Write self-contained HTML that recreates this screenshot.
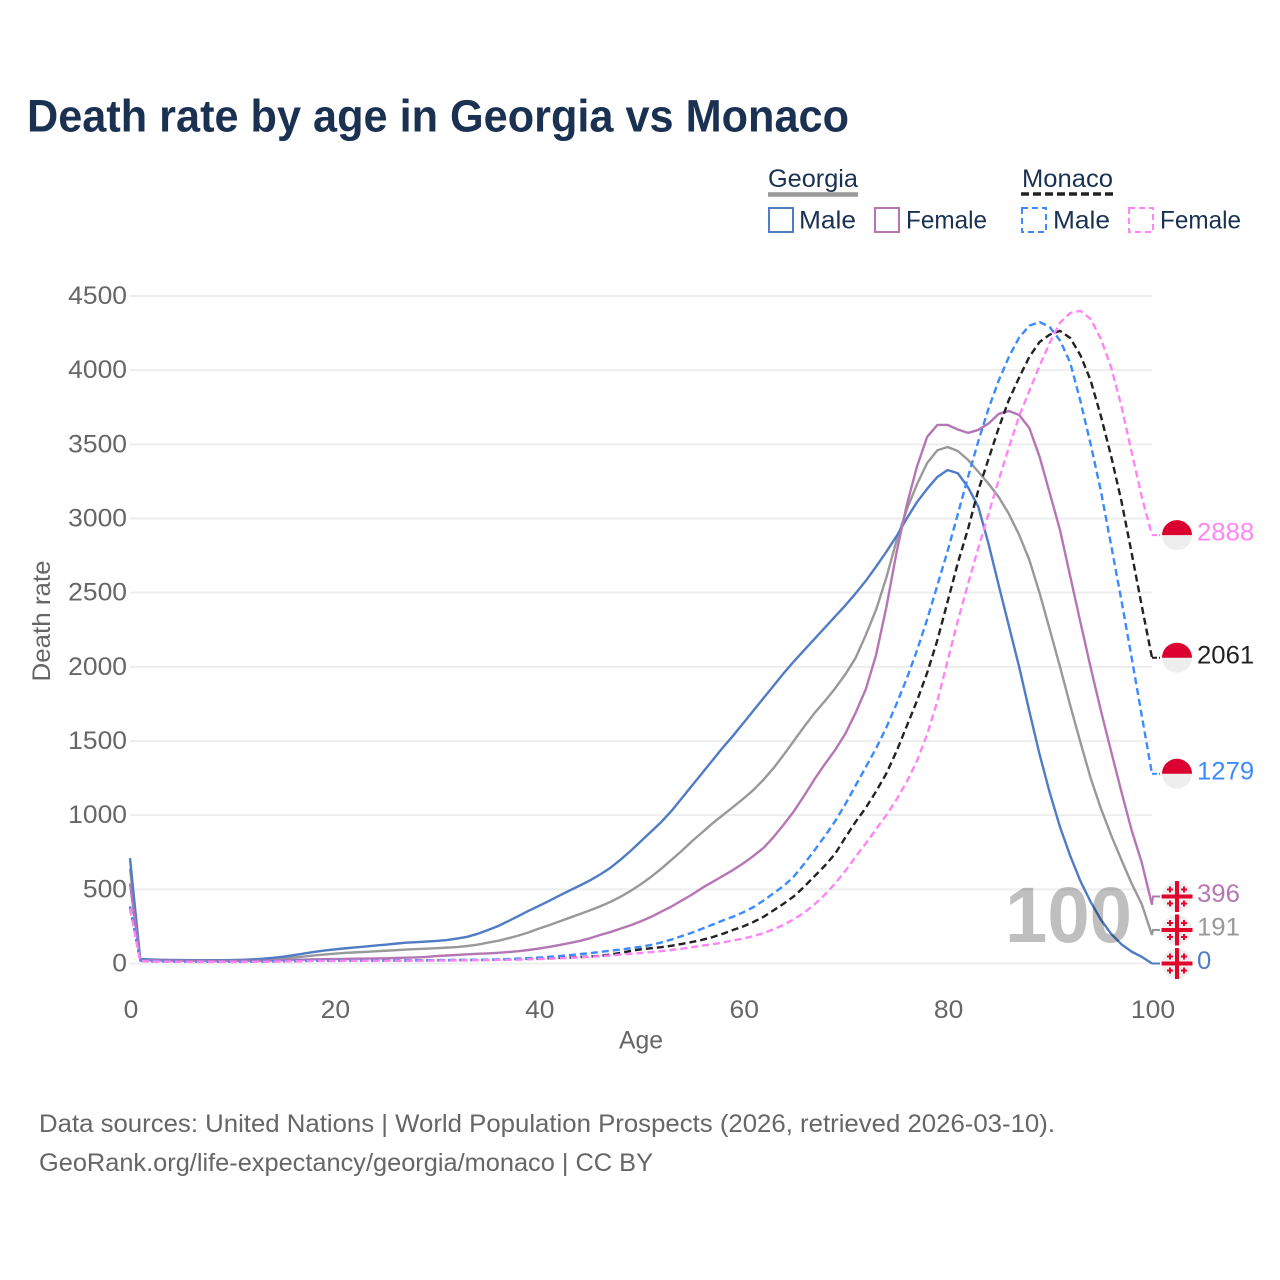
<!DOCTYPE html>
<html lang="en">
<head>
<meta charset="utf-8">
<title>Death rate by age in Georgia vs Monaco</title>
<style>
html,body{margin:0;padding:0;background:#fff;}
svg{display:block;font-family:"Liberation Sans",sans-serif;}
</style>
</head>
<body>
<svg id="chart" xmlns="http://www.w3.org/2000/svg" width="1280" height="1280" viewBox="0 0 1280 1280">
<rect x="0" y="0" width="1280" height="1280" fill="#fff"/>
<text x="27" y="131.500" font-size="45" font-weight="700" fill="#1a3152" textLength="822" lengthAdjust="spacingAndGlyphs">Death rate by age in Georgia vs Monaco</text>

<g font-size="25" fill="#1a3152">
  <text x="768" y="187" textLength="90" lengthAdjust="spacingAndGlyphs">Georgia</text>
  <line x1="768" x2="858" y1="194.500" y2="194.500" stroke="#999" stroke-width="4.500"/>
  <rect x="769" y="208" width="24" height="24" fill="none" stroke="#4f7cc4" stroke-width="2"/>
  <text x="799" y="228.500" textLength="57" lengthAdjust="spacingAndGlyphs">Male</text>
  <rect x="875" y="208" width="24" height="24" fill="none" stroke="#b576b5" stroke-width="2"/>
  <text x="906" y="228.500" textLength="81" lengthAdjust="spacingAndGlyphs">Female</text>
  <text x="1022" y="187" textLength="91" lengthAdjust="spacingAndGlyphs">Monaco</text>
  <line x1="1021" x2="1113" y1="194" y2="194" stroke="#222" stroke-width="3.500" stroke-dasharray="8,4"/>
  <rect x="1022" y="208" width="24" height="24" fill="none" stroke="#3b8bff" stroke-width="2" stroke-dasharray="6,4"/>
  <text x="1053" y="228.500" textLength="57" lengthAdjust="spacingAndGlyphs">Male</text>
  <rect x="1129" y="208" width="24" height="24" fill="none" stroke="#ff85f5" stroke-width="2" stroke-dasharray="6,4"/>
  <text x="1160" y="228.500" textLength="81" lengthAdjust="spacingAndGlyphs">Female</text>
</g>

<g id="grid"></g>
<g id="yticks" font-size="25" fill="#666" text-anchor="end"></g>
<g id="xticks" font-size="25" fill="#666" text-anchor="middle"></g>
<text transform="translate(50,621) rotate(-90)" font-size="25" fill="#666" text-anchor="middle" textLength="121" lengthAdjust="spacingAndGlyphs">Death rate</text>
<text x="641" y="1048.500" font-size="25" fill="#666" text-anchor="middle" textLength="44" lengthAdjust="spacingAndGlyphs">Age</text>

<g id="series"></g>
<text x="1005" y="942" font-size="79" font-weight="700" fill="#000" fill-opacity="0.25" textLength="127" lengthAdjust="spacingAndGlyphs">100</text>
<g id="endmarks"></g>

<g font-size="25" fill="#666">
  <text x="39" y="1132" textLength="1016" lengthAdjust="spacingAndGlyphs">Data sources: United Nations | World Population Prospects (2026, retrieved 2026-03-10).</text>
  <text x="39" y="1171" textLength="614" lengthAdjust="spacingAndGlyphs">GeoRank.org/life-expectancy/georgia/monaco | CC BY</text>
</g>
</svg>

<script>
var yTickValues = [0, 500, 1000, 1500, 2000, 2500, 3000, 3500, 4000, 4500];
var xTickValues = [0, 20, 40, 60, 80, 100];

var georgiaMale = [710,30,27,25,24,23,22,22,22,22,
23,25,28,32,38,46,56,67,78,87,
95,102,108,114,121,127,134,140,144,148,
152,158,168,180,200,225,252,285,320,355,
388,422,457,492,525,560,600,645,700,760,
825,890,955,1030,1115,1200,1285,1370,1455,1535,
1620,1705,1790,1875,1960,2040,2115,2190,2265,2340,
2415,2495,2580,2675,2775,2880,3000,3110,3200,3280,
3327,3305,3210,3080,2830,2550,2275,2000,1700,1410,
1150,920,725,555,415,295,200,130,80,45,0];

var georgiaBoth = [640,26,24,22,21,20,20,20,20,20,
20,21,23,25,29,34,40,47,54,60,
66,71,75,78,82,86,90,94,97,100,
103,107,111,118,127,140,153,170,188,210,
235,258,283,308,333,358,385,415,450,490,
535,585,640,700,760,825,885,945,1000,1055,
1110,1170,1240,1320,1410,1505,1600,1690,1770,1855,
1950,2060,2215,2385,2600,2850,3060,3230,3374,3460,
3482,3455,3395,3315,3235,3145,3030,2890,2720,2497,
2250,2000,1740,1490,1250,1045,865,700,540,400,191];

var georgiaFemale = [540,24,22,20,19,18,18,18,17,17,
17,18,18,19,20,22,24,26,28,29,
30,31,32,33,34,35,37,39,41,44,
50,54,58,62,65,68,72,77,83,91,
101,112,124,138,152,170,192,212,235,258,
285,315,350,385,425,465,510,550,590,630,
675,725,780,855,940,1030,1135,1245,1345,1440,
1550,1690,1850,2080,2400,2770,3090,3350,3550,3631,
3631,3600,3577,3597,3640,3705,3725,3698,3610,3416,
3170,2922,2610,2300,1995,1705,1430,1160,900,680,396];

var monacoBoth = [380,18,15,14,13,13,12,12,12,12,
12,12,13,13,14,15,16,17,18,19,
19,19,19,19,19,20,20,20,21,21,
22,22,23,23,24,25,26,28,30,32,
34,36,38,40,43,47,52,60,72,85,
96,103,110,120,132,145,160,178,200,226,
250,280,315,360,405,455,520,590,660,740,
850,955,1050,1160,1280,1430,1600,1770,1960,2180,
2440,2700,2930,3190,3400,3610,3800,3950,4090,4190,
4240,4265,4217,4100,3930,3690,3420,3120,2770,2410,2061];

var monacoMale = [385,20,17,15,14,13,13,12,12,12,
12,13,13,14,15,16,17,18,19,20,
20,20,20,20,20,20,21,21,22,22,
23,23,24,24,25,26,28,30,33,36,
40,45,50,56,63,70,78,86,94,103,
113,125,142,162,185,208,235,262,290,315,
345,380,425,475,525,590,675,765,860,960,
1075,1200,1325,1450,1590,1750,1920,2110,2320,2550,
2780,3030,3280,3520,3740,3930,4090,4220,4300,4325,
4290,4200,4050,3790,3500,3185,2820,2451,2065,1670,1279];

var monacoFemale = [370,16,14,13,12,12,11,11,11,11,
11,11,12,12,13,14,15,16,17,17,
17,18,18,18,18,18,19,19,19,20,
20,20,21,21,22,23,24,25,26,28,
30,32,35,38,41,45,49,54,60,65,
71,77,84,91,100,110,120,130,142,155,
168,185,205,232,262,300,345,400,465,540,
625,720,810,905,1000,1105,1225,1365,1545,1770,
2040,2310,2560,2800,3030,3260,3480,3690,3860,4030,
4185,4320,4385,4400,4345,4210,4020,3760,3450,3145,2888];

var NS = 'http://www.w3.org/2000/svg';
var X0 = 130, X1 = 1152, Y0 = 963.5, YTOP = 296, YMAX = 4500, AGEMAX = 100;
var DASH = '7,4';
function xScale(a) { return X0 + (X1 - X0) * a / AGEMAX; }
function yScale(v) { return Y0 - (Y0 - YTOP) * v / YMAX; }
function mk(tag, parent) { var e = document.createElementNS(NS, tag); parent.appendChild(e); return e; }
function fit(el, s, perDigit) {
  el.setAttribute('textLength', String(s).length * perDigit);
  el.setAttribute('lengthAdjust', 'spacingAndGlyphs');
}

var gridG = document.getElementById('grid');
var yG = document.getElementById('yticks');
var xG = document.getElementById('xticks');
yTickValues.forEach(function (v) {
  var l = mk('line', gridG);
  
  
  l.setAttribute('x1', X0); l.setAttribute('x2', X1);
  l.setAttribute('y1', yScale(v)); l.setAttribute('y2', yScale(v));
  l.setAttribute('stroke', '#eee'); l.setAttribute('stroke-width', '2');
  var t = mk('text', yG);
  
  
  t.setAttribute('x', 127); t.setAttribute('y', yScale(v) + 8);
  t.textContent = v; fit(t, v, 14.7);
});
xTickValues.forEach(function (a) {
  var t = mk('text', xG);
  
  
  t.setAttribute('x', xScale(a) + 1); t.setAttribute('y', 1018);
  t.textContent = a; fit(t, a, 14.7);
});

var seriesG = document.getElementById('series');
function drawLine(values, color, dash, name) {
  var p = mk('polyline', seriesG);
  
  
  p.setAttribute('points', values.map(function (v, i) { return xScale(i).toFixed(2) + ',' + yScale(v).toFixed(2); }).join(' '));
  p.setAttribute('fill', 'none');
  p.setAttribute('stroke', color);
  p.setAttribute('stroke-width', '2.4');
  p.setAttribute('stroke-linejoin', 'round');
  if (dash) p.setAttribute('stroke-dasharray', dash);
}
drawLine(georgiaBoth, '#999999', null, 'line-georgia-both');
drawLine(georgiaMale, '#4f7cc4', null, 'line-georgia-male');
drawLine(georgiaFemale, '#b576b5', null, 'line-georgia-female');
drawLine(monacoBoth, '#222222', DASH, 'line-monaco-both');
drawLine(monacoMale, '#3b8bff', DASH, 'line-monaco-male');
drawLine(monacoFemale, '#ff85f5', DASH, 'line-monaco-female');

var endG = document.getElementById('endmarks');
var FX = 1177, FR = 15, MINGAP = 33.5;
function last(a) { return a[a.length - 1]; }

function drawEnd(values, color, dash, yPos, country, name) {
  var v = last(values);
  var g = mk('g', endG);
  
  

  var s = mk('polyline', g);
  
  
  s.setAttribute('points', X1 + ',' + yScale(v).toFixed(2) + ' ' + (X1 + 1) + ',' + yPos.toFixed(2) + ' ' + (FX - FR - 2) + ',' + yPos.toFixed(2));
  s.setAttribute('fill', 'none');
  s.setAttribute('stroke', color);
  s.setAttribute('stroke-width', '2');
  if (dash) s.setAttribute('stroke-dasharray', '5,2');

  var c = mk('circle', g);
  
  
  c.setAttribute('cx', FX); c.setAttribute('cy', yPos); c.setAttribute('r', FR);
  c.setAttribute('fill', '#eeeeee');

  if (country === 'monaco') {
    var h = mk('path', g);
    
    
    h.setAttribute('d', 'M' + (FX - FR) + ' ' + yPos + 'A' + FR + ' ' + FR + ' 0 0 1 ' + (FX + FR) + ' ' + yPos + 'Z');
    h.setAttribute('fill', '#dc0030');
  } else {
    var cr = mk('path', g);
    
    
    var d = 'M' + (FX - 2) + ' ' + (yPos - 15.5) + 'h4v13.5h13.500v4h-13.500v13.500h-4v-13.500h-13.500v-4h13.500z';
    [[-7, -7], [7, -7], [-7, 7], [7, 7]].forEach(function (o) {
      var cx = FX + o[0], cy = yPos + o[1];
      d += 'M' + (cx - 1) + ' ' + (cy - 3) + 'h2v2h2v2h-2v2h-2v-2h-2v-2h2z';
    });
    cr.setAttribute('d', d);
    cr.setAttribute('fill', '#e2062c');
  }

  var t = mk('text', g);
  
  
  t.setAttribute('x', 1197); t.setAttribute('y', yPos + 5.5);
  t.setAttribute('font-size', '25'); t.setAttribute('fill', color);
  t.textContent = v; fit(t, v, 14.3);
}

var yMale = yScale(last(georgiaMale));
var yBoth = Math.min(yScale(last(georgiaBoth)), yMale - MINGAP);
var yFemale = Math.min(yScale(last(georgiaFemale)), yBoth - MINGAP);
drawEnd(georgiaMale, '#4f7cc4', null, yMale, 'georgia', 'end-georgia-male');
drawEnd(georgiaBoth, '#999999', null, yBoth, 'georgia', 'end-georgia-both');
drawEnd(georgiaFemale, '#b576b5', null, yFemale, 'georgia', 'end-georgia-female');
drawEnd(monacoMale, '#3b8bff', DASH, yScale(last(monacoMale)), 'monaco', 'end-monaco-male');
drawEnd(monacoBoth, '#222222', DASH, yScale(last(monacoBoth)), 'monaco', 'end-monaco-both');
drawEnd(monacoFemale, '#ff85f5', DASH, yScale(last(monacoFemale)), 'monaco', 'end-monaco-female');
</script>
</body>
</html>
